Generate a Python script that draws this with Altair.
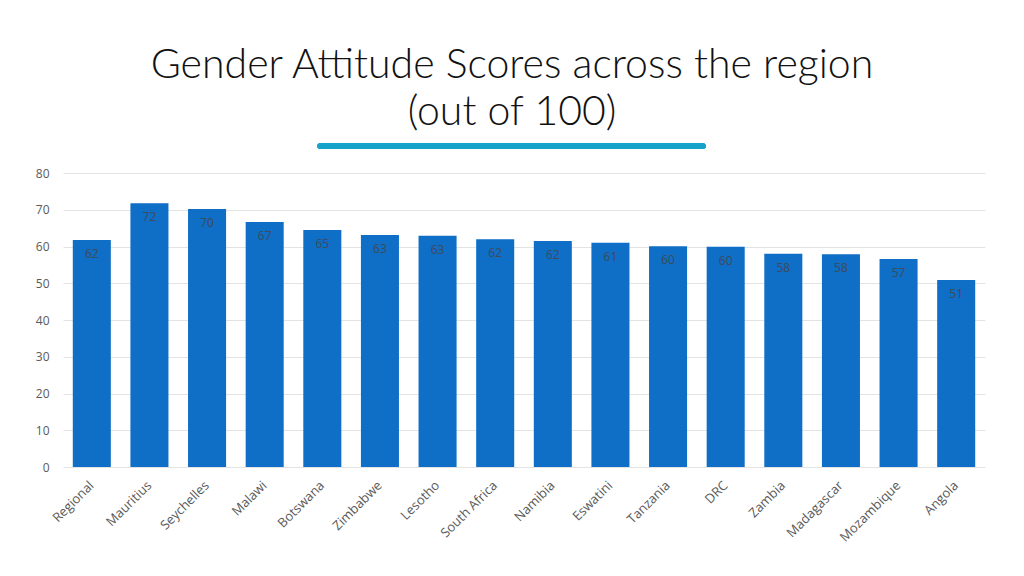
import altair as alt
import pandas as pd

countries = ["Regional", "Mauritius", "Seychelles", "Malawi", "Botswana", "Zimbabwe",
             "Lesotho", "South Africa", "Namibia", "Eswatini", "Tanzania", "DRC",
             "Zambia", "Madagascar", "Mozambique", "Angola"]
scores = [61.8, 71.8, 70.2, 66.7, 64.5, 63.1, 62.9, 62.0, 61.5, 61.0, 60.1, 59.9,
          58.0, 57.9, 56.6, 50.9]
labels = ["62", "72", "70", "67", "65", "63", "63", "62", "62", "61", "60", "60",
          "58", "58", "57", "51"]

df = pd.DataFrame({"country": countries, "score": scores, "label": labels})

W, H = 922, 294

x = alt.X("country:N", sort=countries, title=None,
          scale=alt.Scale(paddingInner=0.34, paddingOuter=0.17),
          axis=alt.Axis(labelAngle=-45, labelAlign="right", labelBaseline="middle",
                        labelFont="Open Sans", labelFontSize=13, labelColor="#595959",
                        ticks=False, domain=False, labelPadding=16))
y = alt.Y("score:Q", title=None,
          scale=alt.Scale(domain=[0, 80], nice=False),
          axis=alt.Axis(tickCount=8, labelOverlap=False, labelFont="Open Sans",
                        labelFontSize=12, labelColor="#595959", ticks=False,
                        domain=False, labelPadding=14, gridColor="#e3e3e3"))

bars = alt.Chart(df).mark_bar(color="#0f6ec6").encode(x=x, y=y)
text = alt.Chart(df).mark_text(baseline="middle", dy=14, fontSize=12,
                               font="Open Sans", color="#3f4a5a").encode(
    x=x, y=y, text="label:N")

underline = alt.Chart(df).mark_rule(color="#17a3c9", strokeWidth=5, strokeCap="round").encode(
    x=alt.value(257), x2=alt.value(640), y=alt.value(-27))

chart = alt.layer(bars, text, underline).properties(
    width=W, height=H,
    autosize=alt.AutoSizeParams(type="none"),
    padding={"left": 55, "top": 165, "right": 30, "bottom": 100},
    title=alt.Title(["Gender Attitude Scores across the region", "(out of 100)"],
                    font="Lato", fontSize=41, fontWeight=300, color="#111111",
                    lineHeight=47, anchor="middle", offset=10, dx=-12),
).configure_view(stroke=None).configure_axisX(grid=False)

chart.save("out.html", embed_options={"renderer": "svg", "actions": False})
